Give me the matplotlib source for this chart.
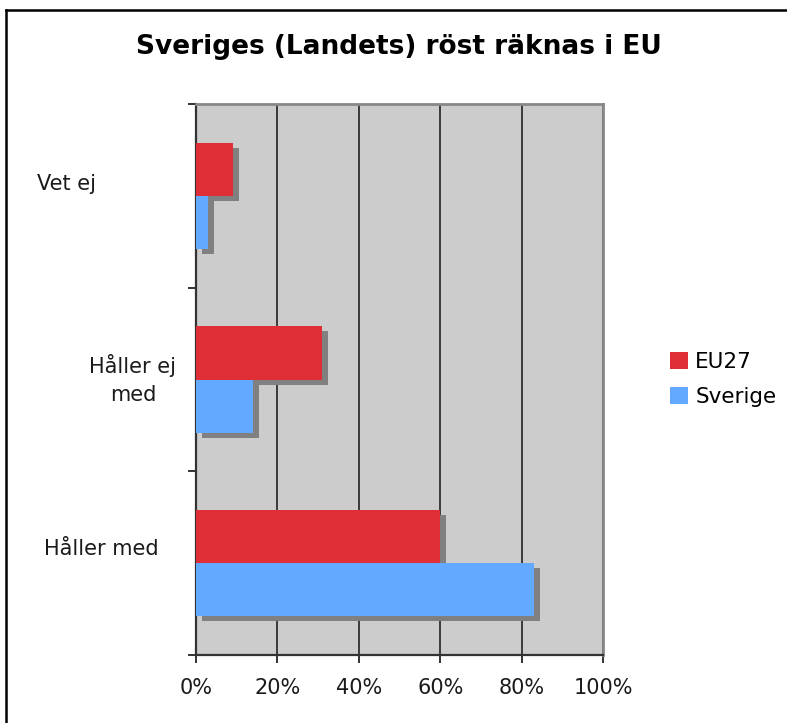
import matplotlib
matplotlib.use("Agg")
import matplotlib.pyplot as plt
import matplotlib.transforms as mtransforms
from matplotlib.lines import Line2D
from matplotlib.patches import Patch
import numpy as np

# Survey answers, listed bottom to top
categories = ["Håller med", "Håller ej\nmed", "Vet ej"]
eu27 = [60, 31, 9]
sverige = [83, 14, 3]
series_names = ["EU27", "Sverige"]
x_ticks = [0, 20, 40, 60, 80, 100]
x_tick_labels = ["0%", "20%", "40%", "60%", "80%", "100%"]
title = "Sveriges (Landets) röst räknas i EU"

RED = "#E02E36"
BLUE = "#63A9FF"
SHADOW = "#808080"
PLOT_BG = "#CCCCCC"
TEXT = "#1a1a1a"

plt.rcParams["font.family"] = ["DejaVu Sans"]

W, H = 787, 723
fig = plt.figure(figsize=(W / 100, H / 100), dpi=100)
ax = fig.add_axes([196 / W, 68 / H, 407 / W, 551 / H])
ax.set_facecolor(PLOT_BG)

y = np.arange(len(categories))
h = 0.29

# drop shadows first, offset right and down
shadow = mtransforms.offset_copy(ax.transData, fig=fig, x=6, y=-5, units="dots")
for vals, off in ((eu27, h / 2), (sverige, -h / 2)):
    ax.barh(y + off, vals, height=h, color=SHADOW, linewidth=0,
            transform=shadow, zorder=2)

ax.barh(y + h / 2, eu27, height=h, color=RED, linewidth=0, zorder=3)
ax.barh(y - h / 2, sverige, height=h, color=BLUE, linewidth=0, zorder=3)

ax.set_xlim(0, 100)
ax.set_ylim(-0.5, len(categories) - 0.5)

# x axis
ax.set_xticks(x_ticks)
ax.set_xticklabels(x_tick_labels, fontsize=15, color=TEXT)
ax.tick_params(axis="x", direction="out", length=5.8, width=1.2,
               color="#111111", pad=11)
ax.xaxis.grid(True, color="#222222", linewidth=1.2)
ax.set_axisbelow(True)

# y axis: ticks on category boundaries, labels placed separately
ax.set_yticks(np.arange(len(categories) + 1) - 0.5)
ax.set_yticklabels([])
ax.tick_params(axis="y", direction="out", length=5.8, width=1.2, color="#111111")

for side in ("left", "bottom"):
    ax.spines[side].set_color("#333333")
    ax.spines[side].set_linewidth(1.6)
for side in ("top", "right"):
    ax.spines[side].set_color("#888888")
    ax.spines[side].set_linewidth(2)

label_tf = mtransforms.blended_transform_factory(ax.transAxes, ax.transData)
label_x = [-0.233, -0.155, -0.317]
label_dy = [0.076, 0.0, 0.065]
for i, lab in enumerate(categories):
    ax.text(label_x[i], i + label_dy[i], lab, transform=label_tf,
            ha="center", va="center", multialignment="center",
            fontsize=15, color=TEXT, linespacing=1.45)

fig.text(399 / W, 1 - 47 / H, title, ha="center", va="center",
         fontsize=19, fontweight="bold", color="black")

# outer chart frame
fig.add_artist(Line2D([6 / W, 6 / W], [0, 1 - 10 / H], transform=fig.transFigure,
                      color="black", linewidth=1.8))
fig.add_artist(Line2D([6 / W, 1], [1 - 10 / H, 1 - 10 / H], transform=fig.transFigure,
                      color="black", linewidth=1.8))

handles = [Patch(facecolor=RED, linewidth=0), Patch(facecolor=BLUE, linewidth=0)]
fig.legend(handles, series_names, loc="center left",
           bbox_to_anchor=(670 / W, 1 - 379.5 / H), frameon=False,
           fontsize=15.5, handlelength=0.84, handleheight=0.84,
           handletextpad=0.33, labelspacing=0.7, borderpad=0,
           borderaxespad=0)

fig.savefig("out.png", dpi=100)
